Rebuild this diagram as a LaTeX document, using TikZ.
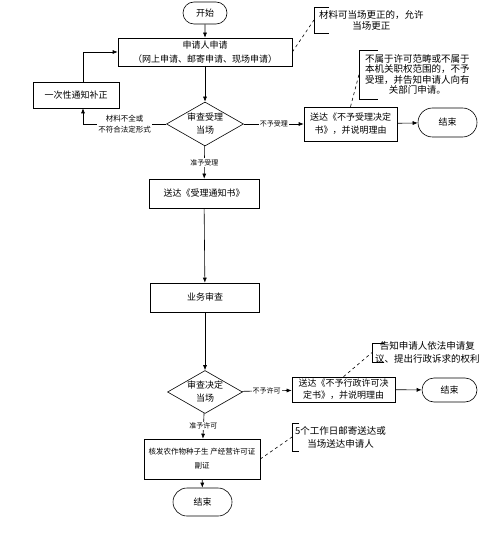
\documentclass[tikz,border=0pt]{standalone}
\usepackage{fontspec}
\newfontfamily\cjk{Noto Sans CJK SC}
\usetikzlibrary{arrows.meta,calc,positioning,shapes.geometric,shapes.misc}

\begin{document}
\begin{tikzpicture}[
  x=1pt, y=-1pt,
  every node/.style={font=\cjk\fontsize{9}{12}\selectfont},
  box/.style={draw, line width=0.6pt, align=center, inner sep=1pt},
  term/.style={draw, line width=0.6pt, rounded rectangle, inner sep=1pt},
  decision/.style={draw, line width=0.6pt, diamond, aspect=1.75, inner sep=0pt, align=center, font=\cjk\fontsize{9}{13}\selectfont},
  note/.style={anchor=west, align=center, inner xsep=3pt, inner ysep=0pt, font=\cjk\fontsize{9.5}{12}\selectfont},
  lbl/.style={fill=white, inner sep=1pt, align=center, font=\cjk\fontsize{7}{11}\selectfont},
  arr/.style={-{Latex[length=5pt,width=4pt]}, line width=0.6pt},
  link/.style={dashed, line width=0.6pt},
  brk/.style={line width=0.6pt}
]
\fill[white] (0,0) rectangle (500,537);
\useasboundingbox (0,0) rectangle (500,537);

\node[term, minimum width=46pt, minimum height=22pt] (start) at (205,13) {开始};
\node[box, minimum width=174pt, minimum height=28pt, font=\cjk\fontsize{9}{14}\selectfont] (apply) at (205,52) {申请人申请\\（网上申请、邮寄申请、现场申请）};
\node[box, minimum width=86pt, minimum height=26pt] (corr) at (76,95) {一次性通知补正};
\node[decision, minimum width=77pt, minimum height=44pt] (d1) at (205,124) {审查受理\\当场};
\node[box, minimum width=93pt, minimum height=34pt, font=\cjk\fontsize{9}{13}\selectfont] (rej1) at (350.5,124) {送达《不予受理决定\\书》，并说明理由};
\node[term, minimum width=61pt, minimum height=29pt] (end1) at (447.5,122.5) {结束};
\node[box, minimum width=110pt, minimum height=29pt] (notify) at (204,193.5) {送达《受理通知书》};
\node[box, minimum width=109pt, minimum height=29pt] (review) at (205,297.5) {业务审查};
\node[decision, minimum width=75pt, minimum height=43pt] (d2) at (205,392) {审查决定\\当场};
\node[box, minimum width=103pt, minimum height=25pt] (rej2) at (343.5,389.5) {送达《不予行政许可决\\定书》，并说明理由};
\node[term, minimum width=57pt, minimum height=24pt] (end2) at (449.5,390) {结束};
\node[box, minimum width=116pt, minimum height=40pt, font=\cjk\fontsize{7.5}{14}\selectfont] (issue) at (202,459) {核发农作物种子生 产经营许可证\\副证};
\node[term, minimum width=61pt, minimum height=28pt] (end3) at (202.5,502) {结束};

\node[note, inner xsep=5pt, font=\cjk\fontsize{9.5}{11}\selectfont] (n1) at (314,20) {材料可当场更正的，允许\\当场更正};
\node[note, inner xsep=6pt, font=\cjk\fontsize{9.5}{10.5}\selectfont] (n2) at (359,74.5) {不属于许可范畴或不属于\\本机关职权范围的，不予\\受理，并告知申请人向有\\关部门申请。};
\node[note, inner xsep=3pt, font=\cjk\fontsize{9.5}{13}\selectfont] (n3) at (372,352.5) {告知申请人依法申请复\\议、提出行政诉求的权利};
\node[note, font=\cjk\fontsize{9.5}{13}\selectfont] (n4) at (292,437) {5个工作日邮寄送达或\\当场送达申请人};

\draw[brk] ([shift={(15,-13)}]n1.west) -- ++(-15,0) -- ++(0,26) -- ++(15,0);
\draw[brk] ([shift={(19,-24.5)}]n2.west) -- ++(-19,0) -- ++(0,49) -- ++(19,0);
\draw[brk] ([shift={(12,-9.5)}]n3.west) -- ++(-12,0) -- ++(0,19) -- ++(12,0);
\draw[brk] ([shift={(7,-14)}]n4.west) -- ++(-7,0) -- ++(0,28) -- ++(7,0);

\draw[arr] (start) -- (apply);
\draw[arr] (apply) -- (d1);
\draw[arr] (d1) -- node[lbl]{准予受理} (notify);
\draw[arr] (notify) -- (review);
\draw[arr] (review) -- (d2);
\draw[arr] (d2) -- node[lbl]{准予许可} (issue);
\draw[arr] (issue) -- (end3);
\draw[arr] (d1) -- node[lbl]{不予受理} (rej1);
\draw[arr] (rej1) -- (end1);
\draw[arr] (d2) -- node[lbl]{不予许可} (rej2);
\draw[arr] (rej2) -- (end2);
\draw[arr] (d1.west) -| node[lbl, pos=0.25, font=\cjk\fontsize{7.5}{11}\selectfont]{材料不全或\\不符合法定形式} ([xshift=7pt]corr.south);
\draw[arr] ([xshift=7pt]corr.north) |- (apply.west);

\draw[link] (apply.east) -- (n1.west);
\draw[link] (rej1.north) -- (n2.west);
\draw[link] (rej2.north) -- (n3.west);
\draw[link] (issue.east) -- (n4.west);
\end{tikzpicture}
\end{document}
